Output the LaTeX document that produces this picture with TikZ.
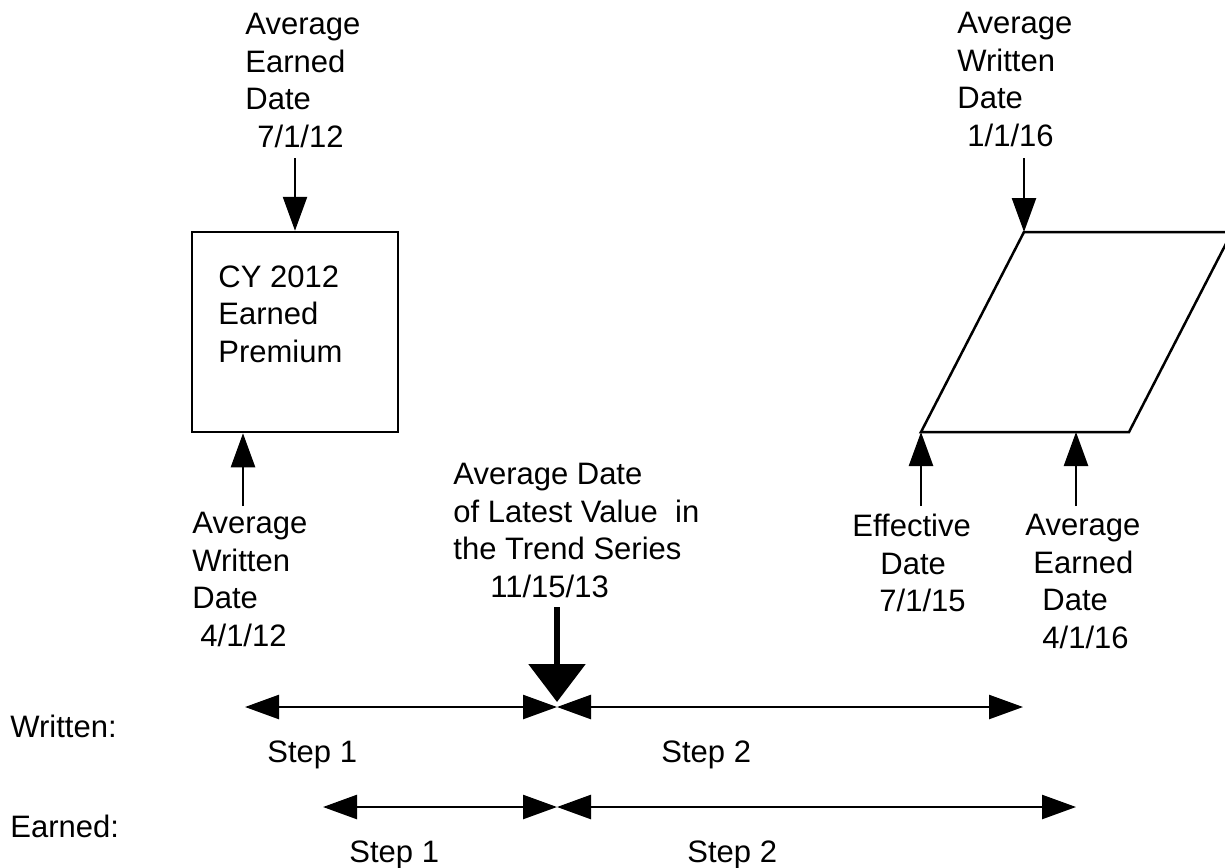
\documentclass[tikz,border=0pt]{standalone}
\usepackage{fontspec}
\setmainfont{Liberation Sans}
\usetikzlibrary{arrows.meta}

\begin{document}
\begin{tikzpicture}[
    x=0.5pt, y=-0.5pt,
    txt/.style={inner sep=0pt, align=left, anchor=north west, font=\fontsize{15.5}{18.75}\selectfont},
    word/.style={inner sep=0pt, anchor=base west, font=\fontsize{15.5}{18.75}\selectfont},
    frame/.style={draw, line width=1.25pt, minimum width=103pt, minimum height=100pt, inner sep=0pt},
    arrow/.style={-{Triangle[length=17pt, width=12pt]}, line width=1.25pt},
    span/.style={{Triangle[length=17pt, width=12pt]}-{Triangle[length=17pt, width=12pt]}, line width=1.25pt},
    bigarrow/.style={-{Triangle[length=19pt, width=28pt]}, line width=3pt}
]
\useasboundingbox (0,0) rectangle (1225,867);
\clip (0,0) rectangle (1225,867);

% Calendar year box
\node[frame] (cybox) at (295,332) {};
\node[txt] (cytext) at (218,265) {CY 2012\\Earned\\Premium};

% Policy parallelogram
\coordinate (pTL) at (1024,232);
\coordinate (pTR) at (1232,232);
\coordinate (pBR) at (1129,432);
\coordinate (pBL) at (921,432);
\coordinate (pMid) at (1076,432);
\draw[line width=1.25pt] (pTL) -- (pTR) -- (pBR) -- (pBL) -- cycle;

% Date labels
\node[txt] (avgEarnedTop) at (245,13) {Average\\Earned\\Date\\\hspace*{6pt}7/1/12};
\node[txt] (avgWrittenTop) at (957,12) {Average\\Written\\Date\\\hspace*{5pt}1/1/16};
\node[txt] (avgWrittenBot) at (192,512) {Average\\Written\\Date\\\hspace*{4pt}4/1/12};
\node[txt] (trend) at (453,463) {Average Date\\of Latest Value~ in\\the Trend Series\\\hspace*{18.5pt}11/15/13};
\node[txt] (effective) at (852,514) {Effective\\\hspace*{14pt}Date\\\hspace*{13.5pt}7/1/15};
\node[txt] (avgEarnedBot) at (1025,514) {Average\\\hspace*{4pt}Earned\\\hspace*{8.5pt}Date\\\hspace*{8.5pt}4/1/16};

% Arrow start points
\coordinate (aeTopStart) at (295,158);
\coordinate (awTopStart) at (1024,158);
\coordinate (awBotStart) at (243,506);
\coordinate (effStart) at (921,506);
\coordinate (aeBotStart) at (1076,506);
\coordinate (trendStart) at (557,607);
\coordinate (trendEnd) at (557,702);

\draw[arrow] (aeTopStart) -- (cybox.north);
\draw[arrow] (awBotStart) -- (awBotStart |- cybox.south);
\draw[arrow] (awTopStart) -- (pTL);
\draw[arrow] (effStart) -- (pBL);
\draw[arrow] (aeBotStart) -- (pMid);
\draw[bigarrow] (trendStart) -- (trendEnd);

% Written and earned spans
\coordinate (wL) at (245,707);
\coordinate (wM) at (557,707);
\coordinate (wR) at (1023,707);
\coordinate (eL) at (323,807);
\coordinate (eM) at (557,807);
\coordinate (eR) at (1076,807);

\draw[span] (wL) -- (wM);
\draw[span] (wM) -- (wR);
\draw[span] (eL) -- (eM);
\draw[span] (eM) -- (eR);

\node[word] (writtenRow) at (10,737) {Written:};
\node[word] (earnedRow) at (10,837) {Earned:};
\node[word] (wStepOne) at (267,762) {Step 1};
\node[word] (wStepTwo) at (661,762) {Step 2};
\node[word] (eStepOne) at (349,862) {Step 1};
\node[word] (eStepTwo) at (687,862) {Step 2};

\end{tikzpicture}
\end{document}
